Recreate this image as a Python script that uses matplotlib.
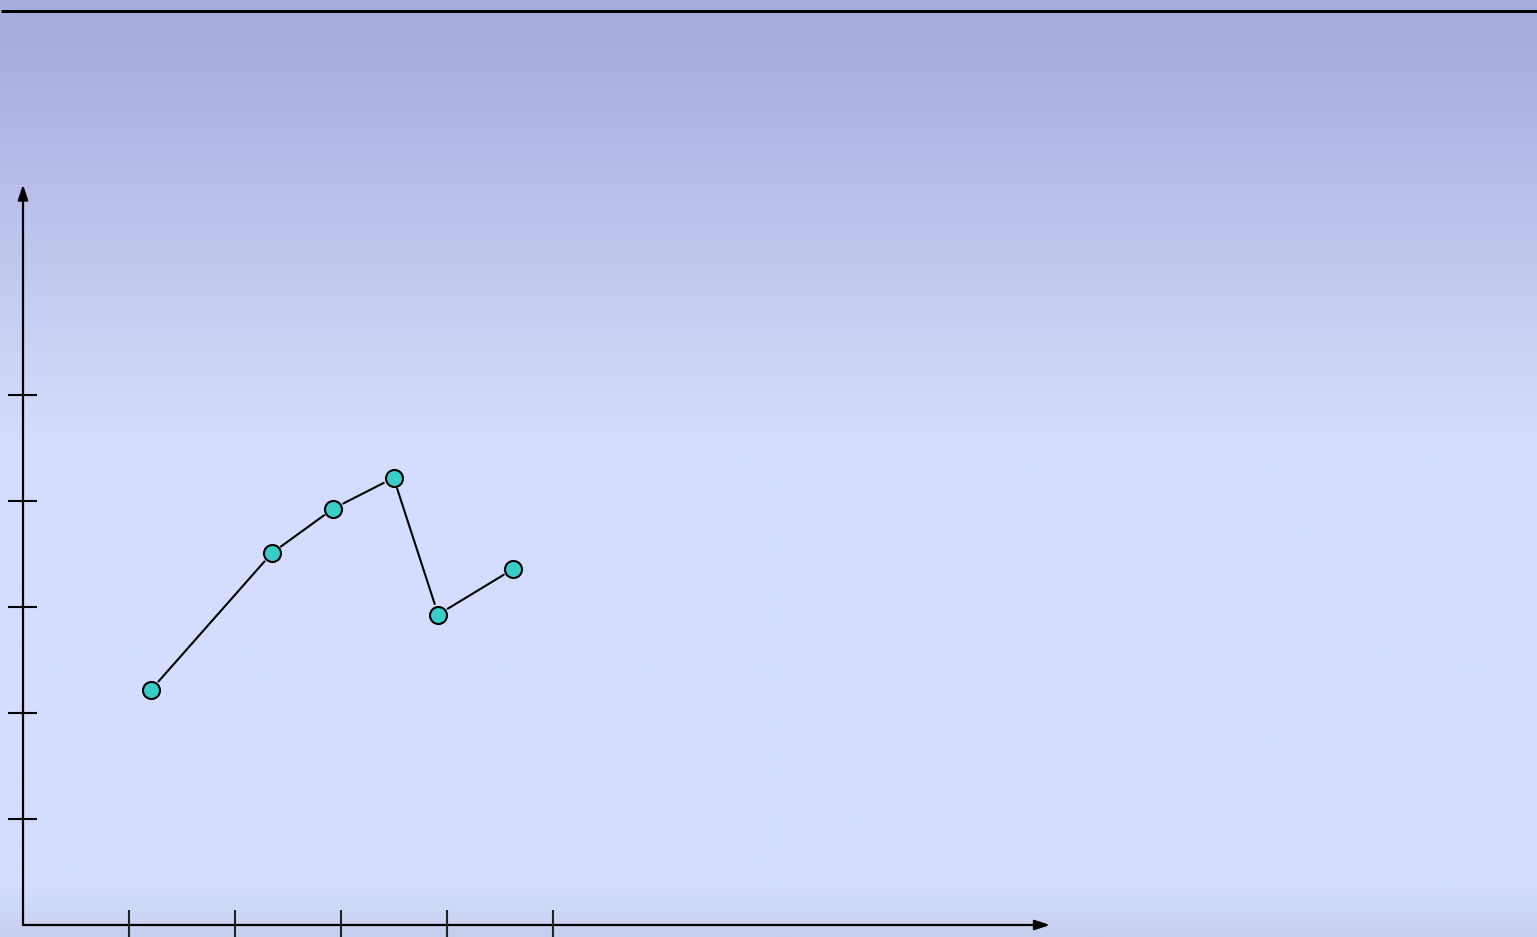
import matplotlib
matplotlib.use("Agg")
import matplotlib.pyplot as plt
import matplotlib.colors as mcolors
import numpy as np

# data (axis units: one tick = 1)
x_vals = [1.21, 2.35, 2.93, 3.50, 3.92, 4.63]
y_vals = [2.22, 3.51, 3.93, 4.22, 2.93, 3.36]
x_ticks = [1, 2, 3, 4, 5]
y_ticks = [1, 2, 3, 4, 5]

fig = plt.figure(figsize=(15.37, 9.375), dpi=100)
ax = fig.add_axes([0, 0, 1, 1])

# pixel mapping: x origin at px 23, y origin at px 925, ~106 px per unit
x0, y0, unit = 23.0, 925.0, 105.9
xmin, xmax = -x0 / unit, (1537 - x0) / unit
ymin, ymax = -(937 - y0) / unit, y0 / unit
ax.set_xlim(xmin, xmax)
ax.set_ylim(ymin, ymax)
ax.axis("off")

# background gradient (top to bottom)
grad = mcolors.LinearSegmentedColormap.from_list(
    "bg",
    [(0.0, "#a8addd"), (0.05, "#a9aedf"), (0.47, "#d4ddfd"),
     (0.95, "#d4ddfd"), (1.0, "#c6d0ee")])
g = np.linspace(0, 1, 400).reshape(-1, 1)
ax.imshow(g, cmap=grad, aspect="auto", extent=(xmin, xmax, ymin, ymax),
          origin="upper", zorder=0)

# top rule
ax.plot([xmin + 1 / unit, xmax], [ymax - 11 / unit] * 2, color="black",
        lw=2.2, zorder=2, solid_capstyle="butt")

# axes with arrow heads
arrow = dict(arrowstyle="-|>,head_length=0.9,head_width=0.3", color="black",
             lw=1.6, shrinkA=0, shrinkB=0)
ax.annotate("", xy=(0, (y0 - 185) / unit), xytext=(0, 0), arrowprops=arrow, zorder=3)
ax.annotate("", xy=((1050 - x0) / unit, 0), xytext=(0, 0), arrowprops=arrow, zorder=3)

# ticks
ax.hlines(y_ticks, -15 / unit, 14 / unit, color="black", lw=1.5, zorder=3)
ax.vlines(x_ticks, ymin, 15 / unit, color="#222222", lw=1.5, zorder=3)

# connecting lines, shortened so they stop short of the markers
for i in range(len(x_vals) - 1):
    ax.annotate("", xy=(x_vals[i + 1], y_vals[i + 1]), xytext=(x_vals[i], y_vals[i]),
                arrowprops=dict(arrowstyle="-", color="black", lw=1.5,
                                shrinkA=8, shrinkB=8), zorder=4)

ax.scatter(x_vals, y_vals, s=150, facecolor="#38cdc8", edgecolor="black",
           linewidths=1.5, zorder=5)

fig.savefig("out.png", dpi=100)
